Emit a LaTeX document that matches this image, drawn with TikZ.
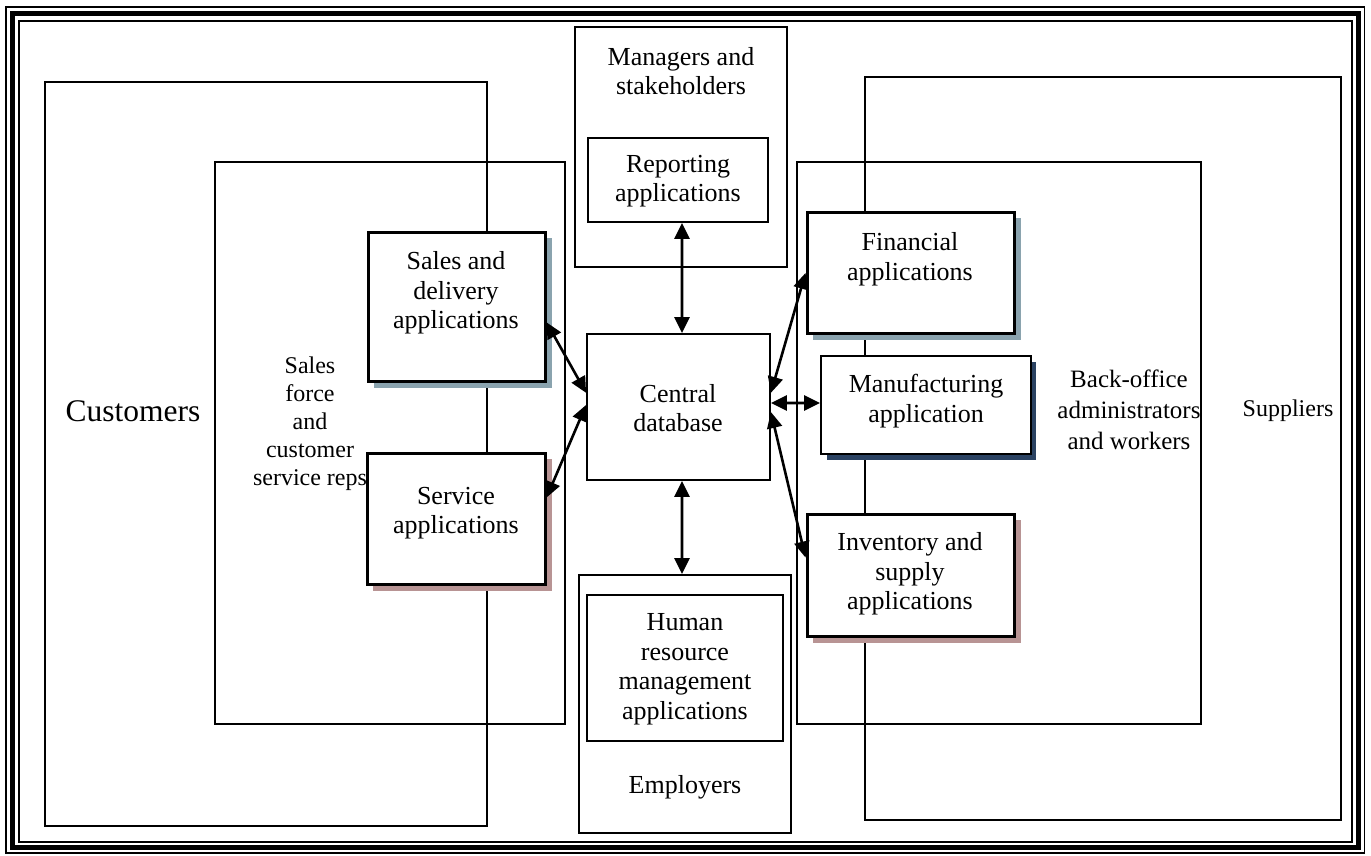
\documentclass[tikz,border=0pt]{standalone}
\usepackage{fontspec}
\setmainfont{Liberation Serif}
\usetikzlibrary{arrows.meta,calc}

\definecolor{shadeblue}{HTML}{8AA3AE}
\definecolor{shaderose}{HTML}{B89494}
\definecolor{shadenavy}{HTML}{2A4262}

\tikzset{
  area/.style={draw, line width=1.8pt, inner sep=0pt},
  appbox/.style={draw, fill=white, line width=3pt, inner sep=0pt},
  thinbox/.style={draw, fill=white, line width=1.8pt, inner sep=0pt},
  txt/.style={font=\fontsize{26}{29.5}\selectfont, align=center, inner sep=0pt},
  link/.style={line width=2.6pt, {Triangle[length=16pt,width=15pt]}-{Triangle[length=16pt,width=15pt]}},
  % rectangle placed by its corners (x1,y1,x2,y2), y running downward
  corners/.style n args={4}{at={({(#1+#3)/2},{(#2+#4)/2})},
    minimum width={(#3-#1)*1pt}, minimum height={(#4-#2)*1pt}},
}

\begin{document}
\begin{tikzpicture}[x=1pt,y=-1pt]
\useasboundingbox (0,0) rectangle (1371,855);

% triple frame
\draw[line width=1.8pt] (6,7) rectangle (1364.5,853);
\draw[line width=5pt] (12.5,13.5) rectangle (1358,847.5);
\draw[line width=1.8pt] (19,21) rectangle (1352,842);

% large enclosing areas
\node[area, corners={45}{82}{487}{826}] (cust) {};
\node[area, corners={215}{162}{565}{724}] (sf) {};
\node[area, corners={865}{77}{1341}{820}] (sup) {};
\node[area, corners={797}{162}{1201}{724}] (bo) {};
\node[area, fill=white, corners={575}{27}{787}{267}] (mgr) {};
\node[area, fill=white, corners={579}{575}{791}{833}] (emp) {};

% shadows under application boxes
\fill[shadeblue] (374,238) rectangle (552,388);
\fill[shaderose] (373,459) rectangle (552,591);
\fill[shadeblue] (813,218) rectangle (1021,340);
\fill[shadenavy] (827,362) rectangle (1036,460);
\fill[shaderose] (813,520) rectangle (1021,643);

% application boxes
\node[appbox, corners={368}{232}{545}{381}] (sd) {};
\node[appbox, corners={367}{453}{545}{584}] (svc) {};
\node[appbox, corners={807}{212}{1014}{333}] (fin) {};
\node[thinbox, corners={821}{356}{1031}{454}] (mfg) {};
\node[appbox, corners={807}{514}{1014}{636}] (inv) {};
\node[thinbox, corners={588}{138}{768}{222}] (rep) {};
\node[thinbox, corners={587}{334}{770}{480}] (cdb) {};
\node[thinbox, corners={587}{595}{783}{741}] (hr) {};

% labels
\node[txt] (sd-t)  at (456,293) {Sales and\\delivery\\applications};
\node[txt] (svc-t) at (456,513) {Service\\applications};
\node[txt] (fin-t) at (910,259) {Financial\\applications};
\node[txt] (mfg-t) at (926,401) {Manufacturing\\application};
\node[txt] (inv-t) at (910,574) {Inventory and\\supply\\applications};
\node[txt] (rep-t) at (678,181) {Reporting\\applications};
\node[txt] (cdb-t) at (678,408) {Central\\database};
\node[txt] (hr-t)  at (685,669) {Human\\resource\\management\\applications};
\node[txt] (mgr-t) at (681,71) {Managers and\\stakeholders};
\node[txt] (emp-t) at (685,787) {Employers};
\node[txt, font=\fontsize{31.5}{34}\selectfont] (cust-t) at (133,411) {Customers};
\node[txt, font=\fontsize{24}{28}\selectfont] (sf-t) at (310,424) {Sales\\force\\and\\customer\\service reps};
\node[txt, font=\fontsize{25}{31}\selectfont] (bo-t) at (1129,410) {Back-office\\administrators\\and workers};
\node[txt, font=\fontsize{24}{28}\selectfont] (sup-t) at (1288,411) {Suppliers};

% connectors to the central database
\draw[link] ($(rep.south west)!0.522!(rep.south east)$) -- ($(cdb.north west)!0.519!(cdb.north east)$);
\draw[link] ($(cdb.south west)!0.519!(cdb.south east)$) -- ($(emp.north west)!0.486!(emp.north east)$);
\draw[link] ($(sd.north east)!0.604!(sd.south east)$) -- ($(cdb.north west)!0.404!(cdb.south west)$);
\draw[link] ($(svc.north east)!0.344!(svc.south east)$) -- ($(cdb.north west)!0.486!(cdb.south west)$);
\draw[link] ($(cdb.north east)!0.404!(cdb.south east)$) -- ($(fin.north west)!0.504!(fin.south west)$);
\draw[link] ($(cdb.north east)!0.473!(cdb.south east)$) -- ($(mfg.north west)!0.48!(mfg.south west)$);
\draw[link] ($(cdb.north east)!0.534!(cdb.south east)$) -- ($(inv.north west)!0.36!(inv.south west)$);
\end{tikzpicture}
\end{document}
